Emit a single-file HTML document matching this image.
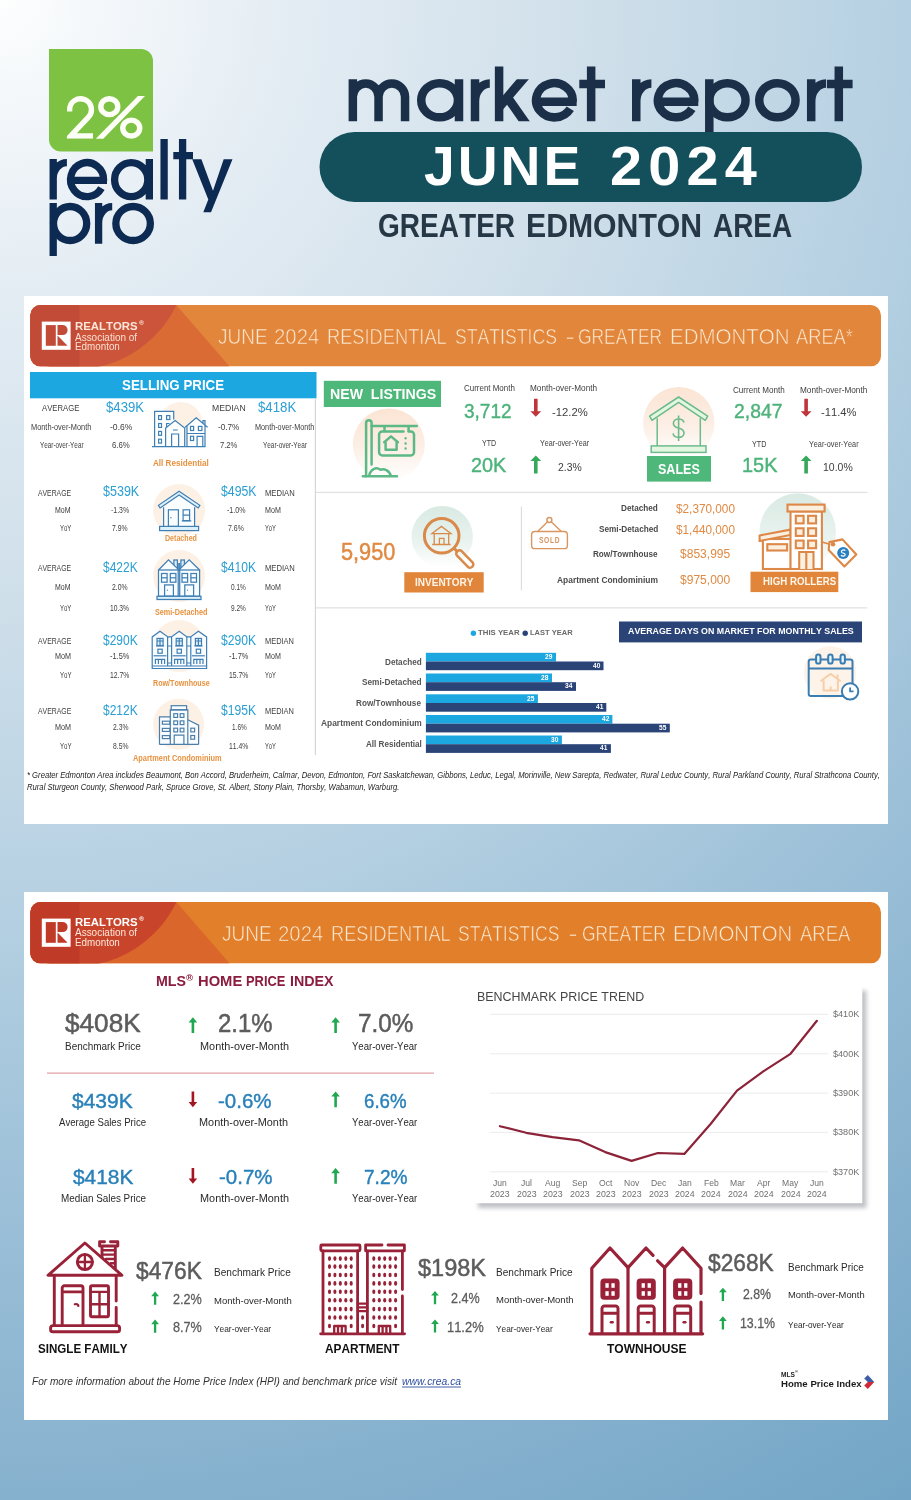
<!DOCTYPE html><html><head><meta charset="utf-8"><title>Market Report June 2024</title>
<style>
html,body{margin:0;padding:0}
body{width:911px;height:1500px;position:relative;overflow:hidden;font-family:"Liberation Sans",sans-serif;
background:radial-gradient(circle 1760px at 0 0,#fdfefe 0,#f3f7fa 110px,#e3ecf3 300px,#cfdfea 600px,#b5d0e2 911px,#9cc0d8 1200px,#86b1ce 1500px,#72a5c6 1760px);}
svg.bg{position:absolute;left:0;top:0}
.t{position:absolute;white-space:pre;line-height:1;transform-origin:0 50%;font-kerning:none}
.b{font-weight:bold}.i{font-style:italic}
</style></head><body>
<svg class="bg" width="911" height="1500" viewBox="0 0 911 1500">
<path d="M49,49H141A12,12 0 0 1 153,61V151.5H61A12,12 0 0 1 49,139.5Z" fill="#7dc242"/>
<clipPath id="c2"><rect x="66.9" y="90" width="30" height="48.8"/></clipPath>
<path clip-path="url(#c2)" d="M69.6,111.4V109.7A10.9,10.9 0 1 1 88.2,117.4L70.6,136H93" fill="none" stroke="#fdfef6" stroke-width="5.4" stroke-linejoin="miter"/>
<ellipse cx="109.3" cy="106.7" rx="8.45" ry="7.95" fill="none" stroke="#fdfef6" stroke-width="5.4"/>
<ellipse cx="131.25" cy="128.1" rx="8.5" ry="7.95" fill="none" stroke="#fdfef6" stroke-width="5.4"/>
<path d="M137.9,96H145L103.3,138.8H95.8Z" fill="#fdfef6"/>
<path d="M53.2,158.9V199.5M53.2,178.5A13.7,16 0 0 1 66.9,162.55M103.64,180.30A16.55,17.0 0 1 0 101.43,188.15M70.55,180.30H107.00M149.35,158.9V199.5M164.1,138.9V199.5M182.6,138.9V199.5M173.3,155.6H193M53.2,203V256M98.6,203V243.7M98.6,222.5A13.6,16 0 0 1 112.2,206.65" fill="none" stroke="#0c2a52" stroke-width="7.3"/>
<ellipse fill="none" stroke="#0c2a52" stroke-width="7.3" cx="131.2" cy="179.65" rx="16.6" ry="17.0"/>
<ellipse fill="none" stroke="#0c2a52" stroke-width="7.3" cx="70.1" cy="223.5" rx="16.6" ry="17.0"/>
<ellipse fill="none" stroke="#0c2a52" stroke-width="7.3" cx="133.1" cy="223.5" rx="17.25" ry="17.0"/>
<path d="M192.2,159.2H201.4L213,190.7L223.7,159.2H232.5L211,212.2H203.3L208.3,199.5Z" fill="#0c2a52"/>
<path d="M352.85,79.3V121.2M352.85,96.8A12.85,13.25 0 0 1 378.55,96.8V121.2M378.55,96.8A13.25,13.25 0 0 1 405.05,96.8V121.2M459.0,79.3V121.2M475,79.3V121.2M475,101A14.8,17.45 0 0 1 489.8,83.55M499.1,66.4V121.2M572.62,101.80A18.3,17.1 0 1 0 570.25,108.80M536.10,101.80H576.65M591.15,66.4V121.2M579.3,83.9H605M636.25,79.3V121.2M636.25,101A15.15,17.45 0 0 1 651.4,83.55M694.23,101.80A18.2,17.1 0 1 0 691.86,108.80M657.90,101.80H698.25M709.3,79.3V136M811.2,79.3V121.2M811.2,101A14.8,17.45 0 0 1 826,83.55M838.8,66.4V121.2M826.9,83.9H852.6" fill="none" stroke="#1b2f48" stroke-width="8.5"/>
<ellipse cx="439.6" cy="100.25" rx="18.35" ry="17.1" fill="none" stroke="#1b2f48" stroke-width="8.5"/>
<ellipse cx="727.4" cy="100.25" rx="18.15" ry="17.1" fill="none" stroke="#1b2f48" stroke-width="8.5"/>
<ellipse cx="777.4" cy="100.25" rx="18.15" ry="17.1" fill="none" stroke="#1b2f48" stroke-width="8.5"/>
<clipPath id="kc"><rect x="500" y="79.3" width="40" height="41.900000000000006"/></clipPath>
<g clip-path="url(#kc)" stroke="#1b2f48" stroke-width="9.1" fill="none"><path d="M497,109.5L526,75.5M506.5,96L527.5,126"/></g>
<rect x="319.5" y="132" width="542.5" height="70" rx="35" fill="#14505c"/>
<rect x="24" y="296" width="864" height="528" fill="#ffffff"/>
<clipPath id="h1"><rect x="30.3" y="305" width="850.7" height="61.5" rx="10.5"/></clipPath><g clip-path="url(#h1)"><rect x="30" y="305" width="852" height="61.5" fill="#e2863b"/><path d="M30,305H176.3L229.6,366.5H30Z" fill="#da6b35"/><circle cx="74" cy="256.1" r="113.5" fill="#cb543a"/><rect x="30" y="305" width="49.5" height="61.5" fill="#c24b38"/></g><rect x="41.8" y="321.6" width="28.8" height="28.2" fill="#fff"/><rect x="45.8" y="325.1" width="10" height="20.7" fill="#c24b38"/><path d="M57.5,325.1H62.6A5,5 0 0 1 62.6,335.1H57.5Z" fill="#c24b38"/><path d="M57.5,335.6L67.6,345.8H57.5Z" fill="#c24b38"/>
<rect x="30" y="372" width="286.5" height="26.3" fill="#1da7e0"/>
<path d="M315.4,398.3V755" stroke="#d4d6d8" stroke-width="1.2" fill="none"/>
<path d="M316,492.3H867.4M316,607.9H867.4" stroke="#dfe1e3" stroke-width="1.3" fill="none"/>
<path d="M521.4,506.5V590.5" stroke="#dcdcdc" stroke-width="1.1" fill="none"/>
<defs><linearGradient id="gp" x1="0" y1="0" x2="0" y2="1"><stop offset="0" stop-color="#fbe4d4"/><stop offset="0.55" stop-color="#fcefe6"/><stop offset="1" stop-color="#ffffff"/></linearGradient><linearGradient id="gg" x1="0" y1="0" x2="0" y2="1"><stop offset="0" stop-color="#d9eae3"/><stop offset="0.6" stop-color="#e9f3ef"/><stop offset="1" stop-color="#ffffff"/></linearGradient></defs>
<circle cx="180.8" cy="424" r="22" fill="#fdf0e5"/>
<circle cx="179.1" cy="510.1" r="26" fill="#fdf0e5"/>
<circle cx="179.1" cy="576.1" r="26" fill="#fdf0e5"/>
<circle cx="179" cy="646" r="26" fill="#fdf0e5"/>
<circle cx="178.6" cy="724.2" r="25.5" fill="#fdf0e5"/>
<path d="M154.6,446.4V411.3H173.7V446.4ZM165.6,446.4V428L175.1,420.5L184.7,428V446.4ZM187,446.4V426L196.2,417.8L205,425.4V446.4Z" fill="#fdfefe"/><g fill="none" stroke="#3f7fb4" stroke-width="1.2" stroke-linejoin="miter"><path d="M154.6,446.4V411.3H173.7V419.5"/><rect x="158.6" y="415.6" width="2.9" height="3.9"/><rect x="158.6" y="423.5" width="2.9" height="3.9"/><rect x="158.6" y="431.4" width="2.9" height="3.9"/><rect x="158.6" y="439.2" width="2.9" height="3.9"/><rect x="166.6" y="415.6" width="3.2" height="3.9"/><path d="M166.6,427.2V423.5H169.5"/><path d="M165.6,446.4V428L175.1,420.5L184.7,428V446.4"/><path d="M171.6,446.4V434H178.6V446.4M173,430H177.7"/><path d="M185.2,427.3L196.2,417.8L207.6,427.3M187,446.4V426M205,446.4V425.4M187,433.5H205M203,423.5V420.6H205V425"/><rect x="190.5" y="426.4" width="3.1" height="4.1"/><rect x="198.4" y="426.4" width="3.5" height="4.1"/><rect x="190.5" y="436.3" width="3.1" height="4.2"/><path d="M197.1,446.4V436.3H202.8V446.4"/><path d="M152,446.6H205.5" stroke-width="1.4"/></g>
<g fill="none" stroke="#3f7fb4" stroke-width="1.2"><path d="M163.6,507.2L179.1,495.5L194.6,507.2V526.4H163.6Z" fill="#fafdff" stroke="none"/><path d="M163.6,507.2V526.4M194.6,507.2V526.4"/><path d="M179.1,491.2L199.9,505.3L198.2,508L179.1,495L160.1,508L158.4,505.3Z" fill="#dcf0fb"/><rect x="168.4" y="509.8" width="10" height="16.6"/><circle cx="170.9" cy="517.8" r="0.7" fill="#3f7fb4" stroke="none"/><rect x="183.1" y="509.8" width="6.5" height="10.8"/><path d="M183.1,515.2H189.6M181.8,520.8H191.3"/><rect x="159.6" y="526.4" width="39" height="4.2" fill="#dcf0fb"/></g>
<g fill="none" stroke="#3f7fb4" stroke-width="1.25"><rect x="173.9" y="560" width="3.5" height="9" fill="#dcf0fb"/><rect x="180.9" y="560" width="3.5" height="9" fill="#dcf0fb"/><path d="M158.5,570L168.5,559.9L178.9,570L189.2,559.9L199.6,570" fill="#fafdff"/><rect x="158.5" y="570" width="41.1" height="26.3" fill="#fafdff"/><path d="M178.2,563V596.3M179.7,563V596.3"/><rect x="161.5" y="573.5" width="5.6" height="8.7"/><path d="M161.5,577.8H167.1"/><rect x="170.3" y="573.5" width="5.6" height="8.7"/><path d="M170.3,577.8H175.9"/><rect x="182" y="573.5" width="5.6" height="8.7"/><path d="M182,577.8H187.6"/><rect x="190.9" y="573.5" width="5.6" height="8.7"/><path d="M190.9,577.8H196.5"/><rect x="164.6" y="584.9" width="8.8" height="11.4"/><circle cx="167.4" cy="590.2" r="0.6" fill="#3f7fb4" stroke="none"/><rect x="184.8" y="584.9" width="8.8" height="11.4"/><circle cx="187.60000000000002" cy="590.2" r="0.6" fill="#3f7fb4" stroke="none"/><rect x="157" y="596.3" width="44" height="3.2" fill="#dcf0fb"/></g>
<g fill="none" stroke="#3f7fb4" stroke-width="1.2"><path d="M152.2,668.5V636.9L160,631.2L167.9,636.9H171.4L179.2,631.2L187,636.9H190.6L198.4,631.2L206.6,636.9V668.5Z" fill="#fafdff"/><rect x="157" y="638.4" width="6.1" height="7.2" fill="#dcf0fb"/><path d="M160,638.4V645.6M157,641H163.1M156,645.8H164.1"/><rect x="157.9" y="649.2" width="4.3" height="4"/><path d="M153.5,655.8H166.5"/><path d="M155.4,664V659.3H164.6V664M158.4,659.3V664M161.6,659.3V664"/><rect x="176.2" y="638.4" width="6.1" height="7.2" fill="#dcf0fb"/><path d="M179.2,638.4V645.6M176.2,641H182.29999999999998M175.2,645.8H183.29999999999998"/><rect x="177.1" y="649.2" width="4.3" height="4"/><path d="M172.7,655.8H185.7"/><path d="M174.6,664V659.3H183.79999999999998V664M177.6,659.3V664M180.79999999999998,659.3V664"/><rect x="195.4" y="638.4" width="6.1" height="7.2" fill="#dcf0fb"/><path d="M198.4,638.4V645.6M195.4,641H201.5M194.4,645.8H202.5"/><rect x="196.3" y="649.2" width="4.3" height="4"/><path d="M191.9,655.8H204.9"/><path d="M193.8,664V659.3H203.0V664M196.8,659.3V664M200.0,659.3V664"/><path d="M167.6,636.9V666M171.6,636.9V666M167.6,646H171.6M167.6,663H171.6"/><path d="M186.8,636.9V666M190.8,636.9V666M186.8,646H190.8M186.8,663H190.8"/><path d="M152.2,666H206.6"/></g>
<g fill="none" stroke="#4b7fa9" stroke-width="1.2"><path d="M159.5,744.4V716.9H170.3V709.8H187.8V719.8L198.6,725.1V744.4Z" fill="#fafdff" stroke="none"/><rect x="171.2" y="705.7" width="15.4" height="4.1" fill="#fafdff"/><path d="M170.3,744.4V709.8H187.8V744.4"/><path d="M170.3,716.9H159.5V744.4"/><path d="M187.8,719.8L198.6,725.1V744.4"/><rect x="162.4" y="721.2" width="7.4" height="3"/><rect x="162.4" y="728.4" width="7.4" height="3"/><rect x="162.4" y="735.6" width="7.4" height="3"/><rect x="173.8" y="713.7" width="3.8" height="3.7"/><rect x="180.2" y="713.7" width="3.7" height="3.7"/><rect x="173.8" y="720.9" width="3.8" height="3.7"/><rect x="180.2" y="720.9" width="3.7" height="3.7"/><rect x="173.8" y="728.2" width="3.8" height="3.7"/><rect x="180.2" y="728.2" width="3.7" height="3.7"/><rect x="190.8" y="728.2" width="3.8" height="3.7"/><rect x="190.8" y="735.5" width="3.8" height="3.7"/><path d="M174.2,744.4V735.2H183.9V744.4"/><path d="M159.5,744.4H198.6" stroke-width="1.4"/></g>
<rect x="323.8" y="380.8" width="117.2" height="26.2" fill="#4db87a"/>
<circle cx="388.8" cy="444.5" r="36" fill="url(#gp)"/>
<g fill="none" stroke="#5cb985" stroke-width="2.5" stroke-linecap="round" stroke-linejoin="round"><path d="M366.1,476.3V423A2.75,2.75 0 0 1 371.6,423V464.6"/><path d="M371.6,426.1H416.8M384.5,426.1V431M408.6,426.1V431"/><path d="M403.5,431.4H382.3A3.2,3.2 0 0 0 379.1,434.6V452.2A3.2,3.2 0 0 0 382.3,455.4H410.8A3.2,3.2 0 0 0 414,452.2V434.6A3.2,3.2 0 0 0 410.8,431.4H408.6"/><path d="M384.2,442.2L391,436.4L397.9,442.2M385.6,442.4V449.8H396.6V442.4"/><path d="M405.6,438.2V438.3M405.6,443.4V443.5M405.6,448.5V448.6" stroke-width="2.4"/><path d="M362.8,476.3H397M369,476C370.5,469 376,466.5 380.5,469.8C384,468.5 389,470 391,476"/></g>
<path d="M535.8,416.8L541.1999999999999,411.2H537.5999999999999V398.8H534.0V411.2H530.4Z" fill="#bf353b"/>
<path d="M535.8,455.4L541.1999999999999,461.0H537.5999999999999V473.4H534.0V461.0H530.4Z" fill="#36a85a"/>
<circle cx="678.8" cy="422.8" r="35.7" fill="url(#gp)"/>
<g fill="none" stroke="#6dba8a" stroke-width="1.5"><path d="M678.6,397L707.7,416.2L705.3,420.3L678.6,402.4L652,420.3L649.6,416.2Z" fill="#e2f6e2" stroke-linejoin="round"/><path d="M657.2,418.3V445.9M700.3,418.3V445.9"/><rect x="651.2" y="445.9" width="54.8" height="6.5" fill="#e2f6e2"/><path d="M678.6,415.6V441M684,422.5C683.3,419.8 681,419 678.6,419C675.8,419 673.4,420.6 673.4,423.4C673.4,429.6 684,426.6 684,433C684,435.8 681.5,437.4 678.6,437.4C675.5,437.4 673.5,436 673,433.4" stroke-width="1.6"/></g>
<rect x="647" y="456" width="64" height="25.6" fill="#4db87a"/>
<path d="M806.1,416.8L811.5,411.2H807.9V398.8H804.3000000000001V411.2H800.7Z" fill="#bf353b"/>
<path d="M806.1,455.4L811.5,461.0H807.9V473.4H804.3000000000001V461.0H800.7Z" fill="#36a85a"/>
<circle cx="442.2" cy="536.7" r="30.7" fill="url(#gg)"/>
<g fill="none" stroke="#d98a4a" stroke-width="2.5"><circle cx="441.7" cy="535.8" r="17.3" stroke-width="3"/><path d="M453.8,548L457,551.2" stroke-width="3"/><rect x="-3.2" y="0" width="6.4" height="21.5" rx="2.9" transform="translate(457.3,551.3) rotate(-44)"/></g><g fill="none" stroke="#d98a4a" stroke-width="1.3"><path d="M432,533.6L441.4,526.4L451,533.6Z"/><path d="M434.2,533.6V544.4M448.7,533.6V544.4M432.2,544.5H450.6M439.4,544.4V538.4H444V544.4"/></g>
<rect x="404.3" y="572.2" width="79.4" height="20.3" fill="#e1853a"/>
<g fill="none" stroke="#d99660" stroke-width="1.4"><circle cx="549.4" cy="520" r="2.5" fill="#fff"/><path d="M547.6,521.8L537.6,531.4M551.2,521.8L561.4,531.4"/><rect x="531.6" y="531.5" width="35.8" height="17.1" rx="3.2"/></g>
<circle cx="797.7" cy="531.5" r="38.2" fill="url(#gg)"/>
<g fill="#fff" stroke="#dd8847" stroke-width="2.1"><rect x="762.9" y="539" width="28" height="30"/><path d="M759.6,535.5L790.4,529.6V535L759.6,541Z" fill="#fbefdf"/><rect x="767.3" y="544.2" width="19.8" height="6.3" fill="#fbefdf"/><rect x="790.5" y="511.4" width="31.4" height="57.6"/><rect x="787.5" y="504.6" width="37.1" height="6.9" fill="#fbefdf"/><rect x="795.8" y="515.8" width="7.8" height="7.6" fill="#fbefdf"/><rect x="808.1" y="515.8" width="8" height="7.6" fill="#fbefdf"/><rect x="795.8" y="528.3" width="7.8" height="7.6" fill="#fbefdf"/><rect x="808.1" y="528.3" width="8" height="7.6" fill="#fbefdf"/><rect x="795.8" y="540.6" width="7.8" height="7.6" fill="#fbefdf"/><rect x="808.1" y="540.6" width="8" height="7.6" fill="#fbefdf"/><path d="M799.2,569V552H813.5V569M806.3,552V569" fill="#fbefdf"/><path d="M822,542L830.5,544.6" fill="none" stroke-width="1.6"/><path d="M829.4,542.1L842.5,539.4L856.3,554.5L844.4,566.4L828.7,550Z" stroke-linejoin="round"/><circle cx="833" cy="544.2" r="2.3" fill="#dd8847" stroke="none"/></g><circle cx="843.2" cy="553" r="6" fill="#2a7fc1"/><path d="M845.4,550.6C844,549.4 841,550 841.4,552C841.8,553.8 845,552.6 845.2,554.6C845.3,556.4 842,556.6 841,555.2" fill="none" stroke="#fff" stroke-width="1.2"/>
<rect x="750.5" y="571.7" width="87.8" height="20.4" fill="#e1853a"/>
<circle cx="473.4" cy="633.2" r="2.7" fill="#1da7e0"/><circle cx="525.2" cy="633.2" r="2.7" fill="#2a4478"/>
<rect x="425.9" y="652.8" width="130.1" height="8.7" fill="#1da7e0"/><rect x="425.9" y="661.5" width="177.6" height="8.7" fill="#2a4478"/><rect x="425.9" y="673.5" width="126.1" height="8.7" fill="#1da7e0"/><rect x="425.9" y="682.2" width="150.1" height="8.7" fill="#2a4478"/><rect x="425.9" y="694.3" width="112.0" height="8.7" fill="#1da7e0"/><rect x="425.9" y="703.0" width="180.4" height="8.7" fill="#2a4478"/><rect x="425.9" y="715" width="186.5" height="8.7" fill="#1da7e0"/><rect x="425.9" y="723.7" width="243.9" height="8.7" fill="#2a4478"/><rect x="425.9" y="735.5" width="136.0" height="8.7" fill="#1da7e0"/><rect x="425.9" y="744.2" width="185.0" height="8.7" fill="#2a4478"/>
<rect x="619" y="621.5" width="243" height="20.9" fill="#2a4478"/>
<circle cx="830.1" cy="672.5" r="26.3" fill="#fef3e9"/>
<g fill="none" stroke="#f5cfab" stroke-width="2" stroke-linejoin="round"><path d="M820.5,681.3L830.6,673.9L840.7,681.3M823.6,680.5V690.5H837.9V680.5M830.7,690.5V686.5M837.6,678V674.5"/></g><g fill="none" stroke="#3a7db2" stroke-width="2"><rect x="808.7" y="659.6" width="43.8" height="36.4" rx="2.2"/><path d="M808.7,668.5H852.5"/><rect x="816.0999999999999" y="654.6" width="4.4" height="9" rx="2.2" fill="#e6f6ff"/><rect x="828.1999999999999" y="654.6" width="4.4" height="9" rx="2.2" fill="#e6f6ff"/><rect x="840.5" y="654.6" width="4.4" height="9" rx="2.2" fill="#e6f6ff"/><circle cx="850.1" cy="691.4" r="8.2" fill="#fff"/><path d="M850.1,687.4V691.4H853.6" stroke-width="1.8"/></g>
<rect x="24" y="892" width="864" height="528" fill="#ffffff"/>
<clipPath id="h2"><rect x="30.3" y="902" width="850.7" height="61.5" rx="10.5"/></clipPath><g clip-path="url(#h2)"><rect x="30" y="902" width="852" height="61.5" fill="#e17f2a"/><path d="M30,902H176.3L229.6,963.5H30Z" fill="#db662b"/><circle cx="74" cy="853.1" r="113.5" fill="#c8452b"/><rect x="30" y="902" width="49.5" height="61.5" fill="#c03a28"/></g><rect x="41.8" y="918.6" width="28.8" height="28.2" fill="#fff"/><rect x="45.8" y="922.1" width="10" height="20.7" fill="#c03a28"/><path d="M57.5,922.1H62.6A5,5 0 0 1 62.6,932.1H57.5Z" fill="#c03a28"/><path d="M57.5,932.6L67.6,942.8000000000001H57.5Z" fill="#c03a28"/>
<path d="M47,1073.2H434" stroke="#e2a3a7" stroke-width="1.3" fill="none"/>
<path d="M192.9,1017.3L197.20000000000002,1022.5H194.20000000000002V1033.1H191.6V1022.5H188.6Z" fill="#1fa84f"/>
<path d="M335.6,1017.3L339.90000000000003,1022.5H336.90000000000003V1033.1H334.3V1022.5H331.3Z" fill="#1fa84f"/>
<path d="M192.9,1107.2L197.20000000000002,1102.0H194.20000000000002V1091.4H191.6V1102.0H188.6Z" fill="#a31621"/>
<path d="M335.6,1091.4L339.90000000000003,1096.6000000000001H336.90000000000003V1107.2H334.3V1096.6000000000001H331.3Z" fill="#1fa84f"/>
<path d="M192.9,1183.8L197.20000000000002,1178.6H194.20000000000002V1168.0H191.6V1178.6H188.6Z" fill="#a31621"/>
<path d="M335.6,1168L339.90000000000003,1173.2H336.90000000000003V1183.8H334.3V1173.2H331.3Z" fill="#1fa84f"/>
<defs><filter id="sh" x="-5%" y="-5%" width="112%" height="115%"><feGaussianBlur stdDeviation="2.2"/></filter></defs>
<rect x="478" y="990.5" width="388.5" height="217.5" fill="#8a8f96" opacity="0.55" filter="url(#sh)"/>
<rect x="473.6" y="985.4" width="388.7" height="217.8" fill="#ffffff"/>
<path d="M489.8,1014.3H828" stroke="#ececec" stroke-width="1" fill="none"/>
<path d="M489.8,1053.8H828" stroke="#ececec" stroke-width="1" fill="none"/>
<path d="M489.8,1093.2H828" stroke="#ececec" stroke-width="1" fill="none"/>
<path d="M489.8,1132.4H828" stroke="#ececec" stroke-width="1" fill="none"/>
<path d="M489.8,1171.8H828" stroke="#ececec" stroke-width="1" fill="none"/>
<path d="M499.9,1126.2L526.2,1132.8L552.5,1137.2L578.9,1140.3L605.2,1152.1L631.6,1160.9L657.9,1153L684.3,1153.9L710.6,1124L737,1090.6L763.3,1071.3L790.5,1053.8L816.9,1020.8" fill="none" stroke="#8c2338" stroke-width="2.2" stroke-linejoin="round" stroke-linecap="round"/>
<g fill="none" stroke="#9a2238" stroke-width="2.9" stroke-linecap="round" stroke-linejoin="round"><path d="M104.5,1241.8H99.6V1246H117.8V1241.8H110.5"/><path d="M102,1246.5V1257.5M115.3,1246.5V1268.5"/><path d="M102.5,1250.2H115M102.5,1254.6H115M106,1259H115M110.8,1263.2H115" stroke-width="2.4"/><path d="M84.9,1243L48,1275.3H122L84.9,1243Z"/><circle cx="84.9" cy="1262" r="7.6"/><path d="M84.9,1254.4V1269.6M77.3,1262H92.5" stroke-width="2.3"/><path d="M54.3,1276V1325M116.2,1276V1301M116.2,1307.5V1325"/><path d="M62.2,1325V1288A2.2,2.2 0 0 1 64.4,1285.8H80.8A2.2,2.2 0 0 1 83,1288V1325M62.2,1291.9H83"/><path d="M74.8,1304.2C76.5,1303.8 78.2,1304.4 78.4,1306" stroke-width="2.2"/><rect x="90.5" y="1285.8" width="18" height="31" rx="1.6"/><path d="M90.5,1291.9H108.5M99.5,1292V1316.5M90.5,1304.3H108.5" stroke-width="2.4"/><rect x="50.6" y="1325.6" width="69" height="6.2" rx="2.4"/></g>
<g fill="none" stroke="#9a2238" stroke-width="2.8" stroke-linecap="round" stroke-linejoin="round"><rect x="320.8" y="1245" width="39.2" height="5.8" rx="1"/><path d="M382,1245H365.6V1250.8H404.4V1245H388"/><path d="M323,1251V1333.5M357.6,1251V1333.5M367.4,1251V1333.5M402.4,1251V1289.5M402.4,1296V1333.5"/><path d="M357.6,1303.6H367.4M357.6,1307.4H367.4M357.6,1311.2H367.4" stroke-width="2.2"/><path d="M320.6,1333.8H404.6"/><path d="M334.2,1333V1326H345.59999999999997V1333M338.0,1326V1333M341.8,1326V1333" stroke-width="2.3"/><path d="M378.8,1333V1326H390.2V1333M382.6,1326V1333M386.40000000000003,1326V1333" stroke-width="2.3"/></g><g fill="#9a2238"><ellipse cx="329.5" cy="1258.6" rx="1.55" ry="2.3"/><ellipse cx="334.9" cy="1258.6" rx="1.55" ry="2.3"/><ellipse cx="340.3" cy="1258.6" rx="1.55" ry="2.3"/><ellipse cx="345.8" cy="1258.6" rx="1.55" ry="2.3"/><ellipse cx="351.2" cy="1258.6" rx="1.55" ry="2.3"/><ellipse cx="373.8" cy="1258.6" rx="1.55" ry="2.3"/><ellipse cx="379.3" cy="1258.6" rx="1.55" ry="2.3"/><ellipse cx="384.7" cy="1258.6" rx="1.55" ry="2.3"/><ellipse cx="390.1" cy="1258.6" rx="1.55" ry="2.3"/><ellipse cx="395.6" cy="1258.6" rx="1.55" ry="2.3"/><ellipse cx="329.5" cy="1266.6" rx="1.55" ry="2.3"/><ellipse cx="334.9" cy="1266.6" rx="1.55" ry="2.3"/><ellipse cx="340.3" cy="1266.6" rx="1.55" ry="2.3"/><ellipse cx="345.8" cy="1266.6" rx="1.55" ry="2.3"/><ellipse cx="351.2" cy="1266.6" rx="1.55" ry="2.3"/><ellipse cx="373.8" cy="1266.6" rx="1.55" ry="2.3"/><ellipse cx="379.3" cy="1266.6" rx="1.55" ry="2.3"/><ellipse cx="384.7" cy="1266.6" rx="1.55" ry="2.3"/><ellipse cx="390.1" cy="1266.6" rx="1.55" ry="2.3"/><ellipse cx="395.6" cy="1266.6" rx="1.55" ry="2.3"/><ellipse cx="329.5" cy="1275" rx="1.55" ry="2.3"/><ellipse cx="334.9" cy="1275" rx="1.55" ry="2.3"/><ellipse cx="340.3" cy="1275" rx="1.55" ry="2.3"/><ellipse cx="345.8" cy="1275" rx="1.55" ry="2.3"/><ellipse cx="351.2" cy="1275" rx="1.55" ry="2.3"/><ellipse cx="373.8" cy="1275" rx="1.55" ry="2.3"/><ellipse cx="379.3" cy="1275" rx="1.55" ry="2.3"/><ellipse cx="384.7" cy="1275" rx="1.55" ry="2.3"/><ellipse cx="390.1" cy="1275" rx="1.55" ry="2.3"/><ellipse cx="395.6" cy="1275" rx="1.55" ry="2.3"/><ellipse cx="329.5" cy="1283.4" rx="1.55" ry="2.3"/><ellipse cx="334.9" cy="1283.4" rx="1.55" ry="2.3"/><ellipse cx="340.3" cy="1283.4" rx="1.55" ry="2.3"/><ellipse cx="345.8" cy="1283.4" rx="1.55" ry="2.3"/><ellipse cx="351.2" cy="1283.4" rx="1.55" ry="2.3"/><ellipse cx="373.8" cy="1283.4" rx="1.55" ry="2.3"/><ellipse cx="379.3" cy="1283.4" rx="1.55" ry="2.3"/><ellipse cx="384.7" cy="1283.4" rx="1.55" ry="2.3"/><ellipse cx="390.1" cy="1283.4" rx="1.55" ry="2.3"/><ellipse cx="395.6" cy="1283.4" rx="1.55" ry="2.3"/><ellipse cx="329.5" cy="1291.8" rx="1.55" ry="2.3"/><ellipse cx="334.9" cy="1291.8" rx="1.55" ry="2.3"/><ellipse cx="340.3" cy="1291.8" rx="1.55" ry="2.3"/><ellipse cx="345.8" cy="1291.8" rx="1.55" ry="2.3"/><ellipse cx="351.2" cy="1291.8" rx="1.55" ry="2.3"/><ellipse cx="373.8" cy="1291.8" rx="1.55" ry="2.3"/><ellipse cx="379.3" cy="1291.8" rx="1.55" ry="2.3"/><ellipse cx="384.7" cy="1291.8" rx="1.55" ry="2.3"/><ellipse cx="390.1" cy="1291.8" rx="1.55" ry="2.3"/><ellipse cx="395.6" cy="1291.8" rx="1.55" ry="2.3"/><ellipse cx="329.5" cy="1300.3" rx="1.55" ry="2.3"/><ellipse cx="334.9" cy="1300.3" rx="1.55" ry="2.3"/><ellipse cx="340.3" cy="1300.3" rx="1.55" ry="2.3"/><ellipse cx="345.8" cy="1300.3" rx="1.55" ry="2.3"/><ellipse cx="351.2" cy="1300.3" rx="1.55" ry="2.3"/><ellipse cx="373.8" cy="1300.3" rx="1.55" ry="2.3"/><ellipse cx="379.3" cy="1300.3" rx="1.55" ry="2.3"/><ellipse cx="384.7" cy="1300.3" rx="1.55" ry="2.3"/><ellipse cx="390.1" cy="1300.3" rx="1.55" ry="2.3"/><ellipse cx="395.6" cy="1300.3" rx="1.55" ry="2.3"/><ellipse cx="329.5" cy="1309.1" rx="1.55" ry="2.3"/><ellipse cx="334.9" cy="1309.1" rx="1.55" ry="2.3"/><ellipse cx="340.3" cy="1309.1" rx="1.55" ry="2.3"/><ellipse cx="345.8" cy="1309.1" rx="1.55" ry="2.3"/><ellipse cx="351.2" cy="1309.1" rx="1.55" ry="2.3"/><ellipse cx="373.8" cy="1309.1" rx="1.55" ry="2.3"/><ellipse cx="379.3" cy="1309.1" rx="1.55" ry="2.3"/><ellipse cx="384.7" cy="1309.1" rx="1.55" ry="2.3"/><ellipse cx="390.1" cy="1309.1" rx="1.55" ry="2.3"/><ellipse cx="395.6" cy="1309.1" rx="1.55" ry="2.3"/><ellipse cx="329.5" cy="1317.5" rx="1.55" ry="2.3"/><ellipse cx="334.9" cy="1317.5" rx="1.55" ry="2.3"/><ellipse cx="340.3" cy="1317.5" rx="1.55" ry="2.3"/><ellipse cx="345.8" cy="1317.5" rx="1.55" ry="2.3"/><ellipse cx="351.2" cy="1317.5" rx="1.55" ry="2.3"/><ellipse cx="373.8" cy="1317.5" rx="1.55" ry="2.3"/><ellipse cx="379.3" cy="1317.5" rx="1.55" ry="2.3"/><ellipse cx="384.7" cy="1317.5" rx="1.55" ry="2.3"/><ellipse cx="390.1" cy="1317.5" rx="1.55" ry="2.3"/><ellipse cx="395.6" cy="1317.5" rx="1.55" ry="2.3"/><ellipse cx="329.5" cy="1326" rx="1.55" ry="2.3"/><ellipse cx="351.2" cy="1326" rx="1.55" ry="2.3"/><ellipse cx="373.8" cy="1326" rx="1.55" ry="2.3"/><ellipse cx="395.6" cy="1326" rx="1.55" ry="2.3"/><ellipse cx="362.6" cy="1317.5" rx="1.55" ry="2.3"/><ellipse cx="362.6" cy="1326" rx="1.55" ry="2.3"/></g>
<g fill="none" stroke="#9a2238" stroke-width="3.2" stroke-linecap="round" stroke-linejoin="round"><path d="M591.8,1333V1268.3L610,1248L628,1267.7L646,1248L653,1255.4M657.6,1260.8L664.6,1267.7L682.6,1248L701,1268.3V1293.5M701,1302V1333"/><path d="M628,1267.7V1333M664.6,1267.7V1333"/><path d="M590,1333.8H702.6"/><rect x="602" y="1280.2" width="16" height="18" rx="2.2" fill="#9a2238"/><path d="M602,1333V1308.4A2.4,2.4 0 0 1 604.4,1306H615.6A2.4,2.4 0 0 1 618,1308.4V1333M602,1313.2H618" stroke-width="3"/><path d="M611,1322.2H612.6" stroke-width="2.6"/><rect x="638.2" y="1280.2" width="16" height="18" rx="2.2" fill="#9a2238"/><path d="M638.2,1333V1308.4A2.4,2.4 0 0 1 640.6,1306H651.8000000000001A2.4,2.4 0 0 1 654.2,1308.4V1333M638.2,1313.2H654.2" stroke-width="3"/><path d="M647.2,1322.2H648.8000000000001" stroke-width="2.6"/><rect x="674.7" y="1280.2" width="16" height="18" rx="2.2" fill="#9a2238"/><path d="M674.7,1333V1308.4A2.4,2.4 0 0 1 677.1,1306H688.3000000000001A2.4,2.4 0 0 1 690.7,1308.4V1333M674.7,1313.2H690.7" stroke-width="3"/><path d="M683.7,1322.2H685.3000000000001" stroke-width="2.6"/></g><g fill="#fff"><rect x="605.4" y="1283.2" width="3.3" height="4.6"/><rect x="605.4" y="1291.2" width="3.3" height="4.6"/><rect x="611.4" y="1283.2" width="3.3" height="4.6"/><rect x="611.4" y="1291.2" width="3.3" height="4.6"/><rect x="641.6" y="1283.2" width="3.3" height="4.6"/><rect x="641.6" y="1291.2" width="3.3" height="4.6"/><rect x="647.6" y="1283.2" width="3.3" height="4.6"/><rect x="647.6" y="1291.2" width="3.3" height="4.6"/><rect x="678.1" y="1283.2" width="3.3" height="4.6"/><rect x="678.1" y="1291.2" width="3.3" height="4.6"/><rect x="684.1" y="1283.2" width="3.3" height="4.6"/><rect x="684.1" y="1291.2" width="3.3" height="4.6"/></g>
<path d="M155.1,1291.6L159.0,1296.1999999999998H156.25V1304.8H153.95V1296.1999999999998H151.2Z" fill="#1fa84f"/>
<path d="M155.1,1319.6L159.0,1324.1999999999998H156.25V1332.8H153.95V1324.1999999999998H151.2Z" fill="#1fa84f"/>
<path d="M435,1291L438.9,1295.6H436.15V1304.2H433.85V1295.6H431.1Z" fill="#1fa84f"/>
<path d="M435,1319.4L438.9,1324.0H436.15V1332.6000000000001H433.85V1324.0H431.1Z" fill="#1fa84f"/>
<path d="M722.9,1287.7L726.8,1292.3H724.05V1300.9H721.75V1292.3H719.0Z" fill="#1fa84f"/>
<path d="M722.9,1316.3L726.8,1320.8999999999999H724.05V1329.5H721.75V1320.8999999999999H719.0Z" fill="#1fa84f"/>
<path d="M402,1387H461" stroke="#2d4f9e" stroke-width="0.9" fill="none"/>
<path d="M867.8,1375L874.2,1382L869.6,1382.1H867.8L864.2,1378.5Z" fill="#3d5ba9"/>
<path d="M874.2,1382L867.8,1389.1L864.2,1385.6L867.8,1382.1Z" fill="#cf2a37"/>
</svg>
<span class="t b" style="left:424.40px;top:138.97px;font-size:55.6px;color:#ffffff;letter-spacing:3px;transform:scaleX(0.9940);">JUNE</span>
<span class="t b" style="left:610.40px;top:138.97px;font-size:55.6px;color:#ffffff;letter-spacing:6px;transform:scaleX(1.0358);">2024</span>
<span class="t b" style="left:378.00px;top:209.20px;font-size:33.2px;color:#263746;transform:scaleX(0.8451);">GREATER</span>
<span class="t b" style="left:526.00px;top:209.20px;font-size:33.2px;color:#263746;transform:scaleX(0.9100);">EDMONTON</span>
<span class="t b" style="left:713.00px;top:209.20px;font-size:33.2px;color:#263746;transform:scaleX(0.8408);">AREA</span>
<span class="t b" style="left:75.20px;top:320.53px;font-size:11px;color:#fbe6da;transform:scaleX(1.0341);">REALTORS</span>
<span class="t b" style="left:138.50px;top:320.37px;font-size:6px;color:#fbe6da;transform:scaleX(1.1319);">®</span>
<span class="t" style="left:75.20px;top:332.72px;font-size:10px;color:#fbe0d2;transform:scaleX(0.9967);">Association of</span>
<span class="t" style="left:75.20px;top:342.02px;font-size:10px;color:#fbe0d2;transform:scaleX(0.9836);">Edmonton</span>
<span class="t" style="left:218.10px;top:326.02px;font-size:22.5px;color:#fdebd6;-webkit-text-stroke:0.61px #e2863b;transform:scaleX(0.8466);">JUNE</span>
<span class="t" style="left:274.30px;top:326.02px;font-size:22.5px;color:#fdebd6;-webkit-text-stroke:0.61px #e2863b;transform:scaleX(0.9058);">2024</span>
<span class="t" style="left:326.80px;top:326.02px;font-size:22.5px;color:#fdebd6;-webkit-text-stroke:0.61px #e2863b;transform:scaleX(0.8114);">RESIDENTIAL</span>
<span class="t" style="left:454.70px;top:326.02px;font-size:22.5px;color:#fdebd6;-webkit-text-stroke:0.61px #e2863b;transform:scaleX(0.7838);">STATISTICS</span>
<span class="t" style="left:564.50px;top:326.02px;font-size:22.5px;color:#fdebd6;-webkit-text-stroke:0.61px #e2863b;transform:scaleX(1.3480);">-</span>
<span class="t" style="left:578.20px;top:326.02px;font-size:22.5px;color:#fdebd6;-webkit-text-stroke:0.61px #e2863b;transform:scaleX(0.7740);">GREATER</span>
<span class="t" style="left:669.50px;top:326.02px;font-size:22.5px;color:#fdebd6;-webkit-text-stroke:0.61px #e2863b;transform:scaleX(0.9114);">EDMONTON</span>
<span class="t" style="left:796.30px;top:326.02px;font-size:22.5px;color:#fdebd6;-webkit-text-stroke:0.61px #e2863b;transform:scaleX(0.8119);">AREA*</span>
<span class="t b" style="left:122.00px;top:377.92px;font-size:14.5px;color:#ffffff;transform:scaleX(0.9183);">SELLING PRICE</span>
<span class="t" style="left:42.00px;top:403.32px;font-size:9.6px;color:#404040;transform:scaleX(0.8048);">AVERAGE</span>
<span class="t" style="left:106.30px;top:399.72px;font-size:14.5px;color:#2a9fd4;transform:scaleX(0.9070);">$439K</span>
<span class="t" style="left:258.40px;top:399.72px;font-size:14.5px;color:#2a9fd4;transform:scaleX(0.9118);">$418K</span>
<span class="t" style="left:211.70px;top:403.32px;font-size:9.6px;color:#404040;transform:scaleX(0.9014);">MEDIAN</span>
<span class="t" style="left:31.20px;top:422.55px;font-size:8.3px;color:#404040;transform:scaleX(0.8903);">Month-over-Month</span>
<span class="t" style="left:39.80px;top:441.35px;font-size:8.3px;color:#404040;transform:scaleX(0.7677);">Year-over-Year</span>
<span class="t" style="left:110.30px;top:422.55px;font-size:8.3px;color:#404040;transform:scaleX(1.0339);">-0.6%</span>
<span class="t" style="left:112.20px;top:441.35px;font-size:8.3px;color:#404040;transform:scaleX(0.9417);">6.6%</span>
<span class="t" style="left:218.30px;top:422.55px;font-size:8.3px;color:#404040;transform:scaleX(0.9877);">-0.7%</span>
<span class="t" style="left:220.00px;top:441.35px;font-size:8.3px;color:#404040;transform:scaleX(0.9205);">7.2%</span>
<span class="t" style="left:254.50px;top:422.55px;font-size:8.3px;color:#404040;transform:scaleX(0.8755);">Month-over-Month</span>
<span class="t" style="left:262.70px;top:441.35px;font-size:8.3px;color:#404040;transform:scaleX(0.7730);">Year-over-Year</span>
<span class="t b" style="left:153.30px;top:458.50px;font-size:8.6px;color:#e8923f;transform:scaleX(0.9432);">All Residential</span>
<span class="t" style="left:37.80px;top:487.72px;font-size:9.6px;color:#404040;transform:scaleX(0.7121);">AVERAGE</span>
<span class="t" style="left:103.00px;top:484.12px;font-size:14.5px;color:#2a9fd4;transform:scaleX(0.8641);">$539K</span>
<span class="t" style="left:220.60px;top:484.12px;font-size:14.5px;color:#2a9fd4;transform:scaleX(0.8473);">$495K</span>
<span class="t" style="left:265.00px;top:487.72px;font-size:9.6px;color:#404040;transform:scaleX(0.7968);">MEDIAN</span>
<span class="t" style="left:55.30px;top:505.95px;font-size:8.3px;color:#404040;transform:scaleX(0.8415);">MoM</span>
<span class="t" style="left:59.60px;top:523.95px;font-size:8.3px;color:#404040;transform:scaleX(0.7147);">YoY</span>
<span class="t" style="left:111.30px;top:505.95px;font-size:8.3px;color:#404040;transform:scaleX(0.8354);">-1.3%</span>
<span class="t" style="left:112.20px;top:523.95px;font-size:8.3px;color:#404040;transform:scaleX(0.8200);">7.9%</span>
<span class="t" style="left:227.20px;top:505.95px;font-size:8.3px;color:#404040;transform:scaleX(0.8493);">-1.0%</span>
<span class="t" style="left:228.20px;top:523.95px;font-size:8.3px;color:#404040;transform:scaleX(0.8358);">7.6%</span>
<span class="t" style="left:265.00px;top:505.95px;font-size:8.3px;color:#404040;transform:scaleX(0.8578);">MoM</span>
<span class="t" style="left:265.00px;top:523.95px;font-size:8.3px;color:#404040;transform:scaleX(0.6955);">YoY</span>
<span class="t b" style="left:165.30px;top:533.80px;font-size:8.6px;color:#e8923f;transform:scaleX(0.8254);">Detached</span>
<span class="t" style="left:37.80px;top:563.12px;font-size:9.6px;color:#404040;transform:scaleX(0.7121);">AVERAGE</span>
<span class="t" style="left:103.00px;top:559.52px;font-size:14.5px;color:#2a9fd4;transform:scaleX(0.8259);">$422K</span>
<span class="t" style="left:221.00px;top:559.52px;font-size:14.5px;color:#2a9fd4;transform:scaleX(0.8354);">$410K</span>
<span class="t" style="left:265.00px;top:563.12px;font-size:9.6px;color:#404040;transform:scaleX(0.7968);">MEDIAN</span>
<span class="t" style="left:55.30px;top:583.45px;font-size:8.3px;color:#404040;transform:scaleX(0.8415);">MoM</span>
<span class="t" style="left:59.60px;top:603.55px;font-size:8.3px;color:#404040;transform:scaleX(0.7147);">YoY</span>
<span class="t" style="left:112.20px;top:583.45px;font-size:8.3px;color:#404040;transform:scaleX(0.8200);">2.0%</span>
<span class="t" style="left:110.30px;top:603.55px;font-size:8.3px;color:#404040;transform:scaleX(0.8125);">10.3%</span>
<span class="t" style="left:230.80px;top:583.45px;font-size:8.3px;color:#404040;transform:scaleX(0.7829);">0.1%</span>
<span class="t" style="left:230.80px;top:603.55px;font-size:8.3px;color:#404040;transform:scaleX(0.7829);">9.2%</span>
<span class="t" style="left:265.00px;top:583.45px;font-size:8.3px;color:#404040;transform:scaleX(0.8578);">MoM</span>
<span class="t" style="left:265.00px;top:603.55px;font-size:8.3px;color:#404040;transform:scaleX(0.6955);">YoY</span>
<span class="t b" style="left:155.00px;top:608.30px;font-size:8.6px;color:#e8923f;transform:scaleX(0.8431);">Semi-Detached</span>
<span class="t" style="left:37.70px;top:636.32px;font-size:9.6px;color:#404040;transform:scaleX(0.7185);">AVERAGE</span>
<span class="t" style="left:102.70px;top:632.72px;font-size:14.5px;color:#2a9fd4;transform:scaleX(0.8282);">$290K</span>
<span class="t" style="left:220.70px;top:632.72px;font-size:14.5px;color:#2a9fd4;transform:scaleX(0.8378);">$290K</span>
<span class="t" style="left:265.00px;top:636.32px;font-size:9.6px;color:#404040;transform:scaleX(0.7753);">MEDIAN</span>
<span class="t" style="left:55.00px;top:652.35px;font-size:8.3px;color:#404040;transform:scaleX(0.8687);">MoM</span>
<span class="t" style="left:59.50px;top:670.65px;font-size:8.3px;color:#404040;transform:scaleX(0.7338);">YoY</span>
<span class="t" style="left:110.20px;top:652.35px;font-size:8.3px;color:#404040;transform:scaleX(0.8954);">-1.5%</span>
<span class="t" style="left:110.20px;top:670.65px;font-size:8.3px;color:#404040;transform:scaleX(0.8253);">12.7%</span>
<span class="t" style="left:228.60px;top:652.35px;font-size:8.3px;color:#404040;transform:scaleX(0.8954);">-1.7%</span>
<span class="t" style="left:228.60px;top:670.65px;font-size:8.3px;color:#404040;transform:scaleX(0.8253);">15.7%</span>
<span class="t" style="left:265.00px;top:652.35px;font-size:8.3px;color:#404040;transform:scaleX(0.8578);">MoM</span>
<span class="t" style="left:265.00px;top:670.65px;font-size:8.3px;color:#404040;transform:scaleX(0.6955);">YoY</span>
<span class="t b" style="left:152.80px;top:679.40px;font-size:8.6px;color:#e8923f;transform:scaleX(0.8298);">Row/Townhouse</span>
<span class="t" style="left:37.70px;top:706.12px;font-size:9.6px;color:#404040;transform:scaleX(0.7185);">AVERAGE</span>
<span class="t" style="left:102.70px;top:702.52px;font-size:14.5px;color:#2a9fd4;transform:scaleX(0.8282);">$212K</span>
<span class="t" style="left:220.70px;top:702.52px;font-size:14.5px;color:#2a9fd4;transform:scaleX(0.8378);">$195K</span>
<span class="t" style="left:265.00px;top:706.12px;font-size:9.6px;color:#404040;transform:scaleX(0.7753);">MEDIAN</span>
<span class="t" style="left:55.00px;top:723.45px;font-size:8.3px;color:#404040;transform:scaleX(0.8687);">MoM</span>
<span class="t" style="left:59.50px;top:741.85px;font-size:8.3px;color:#404040;transform:scaleX(0.7338);">YoY</span>
<span class="t" style="left:112.50px;top:723.45px;font-size:8.3px;color:#404040;transform:scaleX(0.8147);">2.3%</span>
<span class="t" style="left:112.50px;top:741.85px;font-size:8.3px;color:#404040;transform:scaleX(0.8147);">8.5%</span>
<span class="t" style="left:231.60px;top:723.45px;font-size:8.3px;color:#404040;transform:scaleX(0.7777);">1.6%</span>
<span class="t" style="left:228.60px;top:741.85px;font-size:8.3px;color:#404040;transform:scaleX(0.8253);">11.4%</span>
<span class="t" style="left:265.00px;top:723.45px;font-size:8.3px;color:#404040;transform:scaleX(0.8578);">MoM</span>
<span class="t" style="left:265.00px;top:741.85px;font-size:8.3px;color:#404040;transform:scaleX(0.6955);">YoY</span>
<span class="t b" style="left:133.30px;top:753.90px;font-size:8.6px;color:#e8923f;transform:scaleX(0.8590);">Apartment Condominium</span>
<span class="t i" style="left:26.80px;top:771.60px;font-size:8.2px;color:#222;transform:scaleX(0.9361);">* Greater Edmonton Area includes Beaumont, Bon Accord, Bruderheim, Calmar, Devon, Edmonton, Fort Saskatchewan, Gibbons, Leduc, Legal, Morinville, New Sarepta, Redwater, Rural Leduc County, Rural Parkland County, Rural Strathcona County,</span>
<span class="t i" style="left:26.50px;top:784.30px;font-size:8.2px;color:#222;transform:scaleX(0.9373);">Rural Sturgeon County, Sherwood Park, Spruce Grove, St. Albert, Stony Plain, Thorsby, Wabamun, Warburg.</span>
<span class="t b" style="left:329.80px;top:387.22px;font-size:14.5px;color:#ffffff;transform:scaleX(0.9757);">NEW  LISTINGS</span>
<span class="t" style="left:464.00px;top:383.80px;font-size:8.6px;color:#404040;transform:scaleX(0.9256);">Current Month</span>
<span class="t" style="left:530.00px;top:383.80px;font-size:8.6px;color:#404040;transform:scaleX(0.9551);">Month-over-Month</span>
<span class="t" style="left:464.00px;top:400.25px;font-size:21px;color:#4db37a;-webkit-text-stroke:0.42px #4db37a;transform:scaleX(0.9046);">3,712</span>
<span class="t" style="left:552.30px;top:406.63px;font-size:11px;color:#404040;transform:scaleX(1.0251);">-12.2%</span>
<span class="t" style="left:481.90px;top:438.50px;font-size:8.6px;color:#404040;transform:scaleX(0.8212);">YTD</span>
<span class="t" style="left:539.50px;top:438.70px;font-size:8.6px;color:#404040;transform:scaleX(0.8349);">Year-over-Year</span>
<span class="t" style="left:470.70px;top:454.05px;font-size:21px;color:#4db37a;-webkit-text-stroke:0.42px #4db37a;transform:scaleX(0.9454);">20K</span>
<span class="t" style="left:558.20px;top:461.53px;font-size:11px;color:#404040;transform:scaleX(0.9460);">2.3%</span>
<span class="t b" style="left:658.00px;top:462.32px;font-size:14.5px;color:#ffffff;transform:scaleX(0.8634);">SALES</span>
<span class="t" style="left:733.40px;top:385.50px;font-size:8.6px;color:#404040;transform:scaleX(0.9402);">Current Month</span>
<span class="t" style="left:800.20px;top:385.50px;font-size:8.6px;color:#404040;transform:scaleX(0.9580);">Month-over-Month</span>
<span class="t" style="left:734.30px;top:400.25px;font-size:21px;color:#4db37a;-webkit-text-stroke:0.42px #4db37a;transform:scaleX(0.9217);">2,847</span>
<span class="t" style="left:821.30px;top:406.63px;font-size:11px;color:#404040;transform:scaleX(1.0194);">-11.4%</span>
<span class="t" style="left:752.00px;top:440.20px;font-size:8.6px;color:#404040;transform:scaleX(0.8328);">YTD</span>
<span class="t" style="left:809.00px;top:440.20px;font-size:8.6px;color:#404040;transform:scaleX(0.8434);">Year-over-Year</span>
<span class="t" style="left:741.60px;top:454.05px;font-size:21px;color:#4db37a;-webkit-text-stroke:0.42px #4db37a;transform:scaleX(0.9481);">15K</span>
<span class="t" style="left:823.20px;top:461.53px;font-size:11px;color:#404040;transform:scaleX(0.9528);">10.0%</span>
<span class="t" style="left:341.30px;top:541.38px;font-size:23px;color:#e08a43;-webkit-text-stroke:0.46px #e08a43;transform:scaleX(0.9443);">5,950</span>
<span class="t b" style="left:414.80px;top:577.52px;font-size:10.4px;color:#fff6ea;transform:scaleX(0.9643);">INVENTORY</span>
<span class="t b" style="left:539.40px;top:536.00px;font-size:8.4px;color:#d9935c;letter-spacing:0.8px;transform:scaleX(0.7995);">SOLD</span>
<span class="t b" style="left:621.00px;top:504.40px;font-size:8.6px;color:#4a4a4a;transform:scaleX(0.9522);">Detached</span>
<span class="t b" style="left:598.50px;top:525.30px;font-size:8.6px;color:#4a4a4a;transform:scaleX(0.9560);">Semi-Detached</span>
<span class="t b" style="left:593.30px;top:549.80px;font-size:8.6px;color:#4a4a4a;transform:scaleX(0.9456);">Row/Townhouse</span>
<span class="t b" style="left:557.00px;top:575.50px;font-size:8.6px;color:#4a4a4a;transform:scaleX(0.9784);">Apartment Condominium</span>
<span class="t" style="left:675.50px;top:502.70px;font-size:12.5px;color:#e08a43;transform:scaleX(0.9424);">$2,370,000</span>
<span class="t" style="left:675.50px;top:523.50px;font-size:12.5px;color:#e08a43;transform:scaleX(0.9424);">$1,440,000</span>
<span class="t" style="left:680.30px;top:548.00px;font-size:12.5px;color:#e08a43;transform:scaleX(0.9637);">$853,995</span>
<span class="t" style="left:680.30px;top:573.70px;font-size:12.5px;color:#e08a43;transform:scaleX(0.9637);">$975,000</span>
<span class="t b" style="left:762.80px;top:576.72px;font-size:10.4px;color:#fff6ea;transform:scaleX(0.9320);">HIGH ROLLERS</span>
<span class="t b" style="left:477.50px;top:629.19px;font-size:7.8px;color:#6a6a6a;transform:scaleX(0.9987);">THIS YEAR</span>
<span class="t b" style="left:529.70px;top:629.19px;font-size:7.8px;color:#6a6a6a;transform:scaleX(0.9673);">LAST YEAR</span>
<span class="t b" style="left:628.00px;top:625.92px;font-size:9.6px;color:#ffffff;transform:scaleX(0.9206);">AVERAGE DAYS ON MARKET FOR MONTHLY SALES</span>
<span class="t b" style="left:384.70px;top:657.50px;font-size:8.6px;color:#555555;transform:scaleX(0.9470);">Detached</span>
<span class="t b" style="left:361.70px;top:677.90px;font-size:8.6px;color:#555555;transform:scaleX(0.9608);">Semi-Detached</span>
<span class="t b" style="left:356.40px;top:698.70px;font-size:8.6px;color:#555555;transform:scaleX(0.9514);">Row/Townhouse</span>
<span class="t b" style="left:320.60px;top:719.40px;font-size:8.6px;color:#555555;transform:scaleX(0.9775);">Apartment Condominium</span>
<span class="t b" style="left:365.50px;top:739.80px;font-size:8.6px;color:#555555;transform:scaleX(0.9432);">All Residential</span>
<span class="t b" style="left:75.20px;top:916.53px;font-size:11px;color:#ffffff;transform:scaleX(1.0341);">REALTORS</span>
<span class="t b" style="left:138.50px;top:916.37px;font-size:6px;color:#ffffff;transform:scaleX(1.1319);">®</span>
<span class="t" style="left:75.20px;top:928.42px;font-size:10px;color:#fde6dc;transform:scaleX(0.9967);">Association of</span>
<span class="t" style="left:75.20px;top:938.22px;font-size:10px;color:#fde6dc;transform:scaleX(0.9836);">Edmonton</span>
<span class="t" style="left:221.80px;top:922.72px;font-size:22.5px;color:#fdebd6;-webkit-text-stroke:0.61px #e07f2a;transform:scaleX(0.8466);">JUNE</span>
<span class="t" style="left:278.00px;top:922.72px;font-size:22.5px;color:#fdebd6;-webkit-text-stroke:0.61px #e07f2a;transform:scaleX(0.9058);">2024</span>
<span class="t" style="left:330.50px;top:922.72px;font-size:22.5px;color:#fdebd6;-webkit-text-stroke:0.61px #e07f2a;transform:scaleX(0.8114);">RESIDENTIAL</span>
<span class="t" style="left:458.20px;top:922.72px;font-size:22.5px;color:#fdebd6;-webkit-text-stroke:0.61px #e07f2a;transform:scaleX(0.7799);">STATISTICS</span>
<span class="t" style="left:567.70px;top:922.72px;font-size:22.5px;color:#fdebd6;-webkit-text-stroke:0.61px #e07f2a;transform:scaleX(1.3347);">-</span>
<span class="t" style="left:581.80px;top:922.72px;font-size:22.5px;color:#fdebd6;-webkit-text-stroke:0.61px #e07f2a;transform:scaleX(0.7712);">GREATER</span>
<span class="t" style="left:673.10px;top:922.72px;font-size:22.5px;color:#fdebd6;-webkit-text-stroke:0.61px #e07f2a;transform:scaleX(0.9091);">EDMONTON</span>
<span class="t" style="left:799.90px;top:922.72px;font-size:22.5px;color:#fdebd6;-webkit-text-stroke:0.61px #e07f2a;transform:scaleX(0.8233);">AREA</span>
<span class="t b" style="left:156.00px;top:974.38px;font-size:14.6px;color:#8c1d40;transform:scaleX(0.9746);">MLS</span>
<span class="t b" style="left:186.00px;top:974.05px;font-size:8.5px;color:#8c1d40;transform:scaleX(1.1183);">®</span>
<span class="t b" style="left:197.60px;top:974.38px;font-size:14.6px;color:#8c1d40;transform:scaleX(1.0106);">HOME</span>
<span class="t b" style="left:245.80px;top:974.38px;font-size:14.6px;color:#8c1d40;transform:scaleX(0.8841);">PRICE</span>
<span class="t b" style="left:289.60px;top:974.38px;font-size:14.6px;color:#8c1d40;transform:scaleX(0.9784);">INDEX</span>
<span class="t" style="left:65.40px;top:1010.50px;font-size:25px;color:#5c5c5c;-webkit-text-stroke:0.50px #5c5c5c;transform:scaleX(1.0467);">$408K</span>
<span class="t" style="left:217.60px;top:1010.50px;font-size:25px;color:#5c5c5c;-webkit-text-stroke:0.50px #5c5c5c;transform:scaleX(0.9556);">2.1%</span>
<span class="t" style="left:358.40px;top:1010.50px;font-size:25px;color:#5c5c5c;-webkit-text-stroke:0.50px #5c5c5c;transform:scaleX(0.9714);">7.0%</span>
<span class="t" style="left:65.40px;top:1041.52px;font-size:10.2px;color:#2a2a2a;transform:scaleX(0.9755);">Benchmark Price</span>
<span class="t" style="left:200.30px;top:1041.52px;font-size:10.2px;color:#2a2a2a;transform:scaleX(1.0691);">Month-over-Month</span>
<span class="t" style="left:352.40px;top:1041.52px;font-size:10.2px;color:#2a2a2a;transform:scaleX(0.9370);">Year-over-Year</span>
<span class="t" style="left:71.90px;top:1091.24px;font-size:20px;color:#2880b9;-webkit-text-stroke:0.40px #2880b9;transform:scaleX(1.0504);">$439K</span>
<span class="t" style="left:217.60px;top:1091.24px;font-size:20px;color:#2880b9;-webkit-text-stroke:0.40px #2880b9;transform:scaleX(1.0230);">-0.6%</span>
<span class="t" style="left:364.30px;top:1091.24px;font-size:20px;color:#2880b9;-webkit-text-stroke:0.40px #2880b9;transform:scaleX(0.9331);">6.6%</span>
<span class="t" style="left:58.50px;top:1117.52px;font-size:10.2px;color:#2a2a2a;transform:scaleX(0.9434);">Average Sales Price</span>
<span class="t" style="left:199.30px;top:1117.52px;font-size:10.2px;color:#2a2a2a;transform:scaleX(1.0691);">Month-over-Month</span>
<span class="t" style="left:352.40px;top:1117.52px;font-size:10.2px;color:#2a2a2a;transform:scaleX(0.9370);">Year-over-Year</span>
<span class="t" style="left:73.30px;top:1167.44px;font-size:20px;color:#2880b9;-webkit-text-stroke:0.40px #2880b9;transform:scaleX(1.0435);">$418K</span>
<span class="t" style="left:218.60px;top:1167.44px;font-size:20px;color:#2880b9;-webkit-text-stroke:0.40px #2880b9;transform:scaleX(1.0230);">-0.7%</span>
<span class="t" style="left:364.30px;top:1167.44px;font-size:20px;color:#2880b9;-webkit-text-stroke:0.40px #2880b9;transform:scaleX(0.9550);">7.2%</span>
<span class="t" style="left:60.50px;top:1193.62px;font-size:10.2px;color:#2a2a2a;transform:scaleX(0.9693);">Median Sales Price</span>
<span class="t" style="left:200.30px;top:1193.62px;font-size:10.2px;color:#2a2a2a;transform:scaleX(1.0691);">Month-over-Month</span>
<span class="t" style="left:352.40px;top:1193.62px;font-size:10.2px;color:#2a2a2a;transform:scaleX(0.9370);">Year-over-Year</span>
<span class="t" style="left:477.20px;top:990.41px;font-size:13.5px;color:#454545;transform:scaleX(0.9209);">BENCHMARK PRICE TREND</span>
<span class="t" style="left:832.50px;top:1010.10px;font-size:8.6px;color:#6f6f6f;transform:scaleX(1.0590);">$410K</span>
<span class="t" style="left:832.50px;top:1049.60px;font-size:8.6px;color:#6f6f6f;transform:scaleX(1.0590);">$400K</span>
<span class="t" style="left:832.50px;top:1089.00px;font-size:8.6px;color:#6f6f6f;transform:scaleX(1.0590);">$390K</span>
<span class="t" style="left:832.50px;top:1128.20px;font-size:8.6px;color:#6f6f6f;transform:scaleX(1.0590);">$380K</span>
<span class="t" style="left:832.50px;top:1167.60px;font-size:8.6px;color:#6f6f6f;transform:scaleX(1.0590);">$370K</span>
<span class="t" style="left:493.28px;top:1179.00px;font-size:8.6px;color:#6f6f6f;transform:scaleX(0.9990);">Jun</span>
<span class="t" style="left:490.40px;top:1189.70px;font-size:8.6px;color:#6f6f6f;transform:scaleX(1.0259);">2023</span>
<span class="t" style="left:521.09px;top:1179.00px;font-size:8.6px;color:#6f6f6f;transform:scaleX(0.9990);">Jul</span>
<span class="t" style="left:516.78px;top:1189.70px;font-size:8.6px;color:#6f6f6f;transform:scaleX(1.0259);">2023</span>
<span class="t" style="left:545.32px;top:1179.00px;font-size:8.6px;color:#6f6f6f;transform:scaleX(0.9990);">Aug</span>
<span class="t" style="left:543.16px;top:1189.70px;font-size:8.6px;color:#6f6f6f;transform:scaleX(1.0259);">2023</span>
<span class="t" style="left:571.70px;top:1179.00px;font-size:8.6px;color:#6f6f6f;transform:scaleX(0.9990);">Sep</span>
<span class="t" style="left:569.54px;top:1189.70px;font-size:8.6px;color:#6f6f6f;transform:scaleX(1.0259);">2023</span>
<span class="t" style="left:599.04px;top:1179.00px;font-size:8.6px;color:#6f6f6f;transform:scaleX(0.9990);">Oct</span>
<span class="t" style="left:595.92px;top:1189.70px;font-size:8.6px;color:#6f6f6f;transform:scaleX(1.0259);">2023</span>
<span class="t" style="left:624.46px;top:1179.00px;font-size:8.6px;color:#6f6f6f;transform:scaleX(0.9990);">Nov</span>
<span class="t" style="left:622.30px;top:1189.70px;font-size:8.6px;color:#6f6f6f;transform:scaleX(1.0259);">2023</span>
<span class="t" style="left:650.84px;top:1179.00px;font-size:8.6px;color:#6f6f6f;transform:scaleX(0.9990);">Dec</span>
<span class="t" style="left:648.68px;top:1189.70px;font-size:8.6px;color:#6f6f6f;transform:scaleX(1.0259);">2023</span>
<span class="t" style="left:677.94px;top:1179.00px;font-size:8.6px;color:#6f6f6f;transform:scaleX(0.9990);">Jan</span>
<span class="t" style="left:675.06px;top:1189.70px;font-size:8.6px;color:#6f6f6f;transform:scaleX(1.0259);">2024</span>
<span class="t" style="left:703.84px;top:1179.00px;font-size:8.6px;color:#6f6f6f;transform:scaleX(0.9990);">Feb</span>
<span class="t" style="left:701.44px;top:1189.70px;font-size:8.6px;color:#6f6f6f;transform:scaleX(1.0259);">2024</span>
<span class="t" style="left:730.22px;top:1179.00px;font-size:8.6px;color:#6f6f6f;transform:scaleX(0.9990);">Mar</span>
<span class="t" style="left:727.82px;top:1189.70px;font-size:8.6px;color:#6f6f6f;transform:scaleX(1.0259);">2024</span>
<span class="t" style="left:757.32px;top:1179.00px;font-size:8.6px;color:#6f6f6f;transform:scaleX(0.9990);">Apr</span>
<span class="t" style="left:754.20px;top:1189.70px;font-size:8.6px;color:#6f6f6f;transform:scaleX(1.0259);">2024</span>
<span class="t" style="left:782.26px;top:1179.00px;font-size:8.6px;color:#6f6f6f;transform:scaleX(0.9990);">May</span>
<span class="t" style="left:780.58px;top:1189.70px;font-size:8.6px;color:#6f6f6f;transform:scaleX(1.0259);">2024</span>
<span class="t" style="left:809.84px;top:1179.00px;font-size:8.6px;color:#6f6f6f;transform:scaleX(0.9990);">Jun</span>
<span class="t" style="left:806.96px;top:1189.70px;font-size:8.6px;color:#6f6f6f;transform:scaleX(1.0259);">2024</span>
<span class="t b" style="left:38.20px;top:1342.84px;font-size:12px;color:#111;transform:scaleX(0.9657);">SINGLE FAMILY</span>
<span class="t b" style="left:324.90px;top:1342.84px;font-size:12px;color:#111;transform:scaleX(0.9873);">APARTMENT</span>
<span class="t b" style="left:606.50px;top:1342.84px;font-size:12px;color:#111;transform:scaleX(1.0030);">TOWNHOUSE</span>
<span class="t" style="left:136.00px;top:1258.99px;font-size:24px;color:#5c5c5c;-webkit-text-stroke:0.48px #5c5c5c;transform:scaleX(0.9490);">$476K</span>
<span class="t" style="left:214.00px;top:1267.62px;font-size:10.2px;color:#2a2a2a;transform:scaleX(0.9897);">Benchmark Price</span>
<span class="t" style="left:173.00px;top:1292.17px;font-size:14px;color:#5c5c5c;-webkit-text-stroke:0.28px #5c5c5c;transform:scaleX(0.9031);">2.2%</span>
<span class="t" style="left:214.00px;top:1295.52px;font-size:9.6px;color:#2a2a2a;transform:scaleX(0.9922);">Month-over-Month</span>
<span class="t" style="left:173.00px;top:1320.37px;font-size:14px;color:#5c5c5c;-webkit-text-stroke:0.28px #5c5c5c;transform:scaleX(0.9031);">8.7%</span>
<span class="t" style="left:214.00px;top:1324.02px;font-size:9.6px;color:#2a2a2a;transform:scaleX(0.8699);">Year-over-Year</span>
<span class="t" style="left:417.60px;top:1255.79px;font-size:24px;color:#5c5c5c;-webkit-text-stroke:0.48px #5c5c5c;transform:scaleX(0.9807);">$198K</span>
<span class="t" style="left:496.00px;top:1267.62px;font-size:10.2px;color:#2a2a2a;transform:scaleX(0.9871);">Benchmark Price</span>
<span class="t" style="left:451.00px;top:1291.17px;font-size:14px;color:#5c5c5c;-webkit-text-stroke:0.28px #5c5c5c;transform:scaleX(0.8968);">2.4%</span>
<span class="t" style="left:496.00px;top:1294.82px;font-size:9.6px;color:#2a2a2a;transform:scaleX(0.9896);">Month-over-Month</span>
<span class="t" style="left:447.00px;top:1320.17px;font-size:14px;color:#5c5c5c;-webkit-text-stroke:0.28px #5c5c5c;transform:scaleX(0.9228);">11.2%</span>
<span class="t" style="left:496.00px;top:1323.82px;font-size:9.6px;color:#2a2a2a;transform:scaleX(0.8653);">Year-over-Year</span>
<span class="t" style="left:707.90px;top:1250.99px;font-size:24px;color:#5c5c5c;-webkit-text-stroke:0.48px #5c5c5c;transform:scaleX(0.9461);">$268K</span>
<span class="t" style="left:788.40px;top:1263.02px;font-size:10.2px;color:#2a2a2a;transform:scaleX(0.9755);">Benchmark Price</span>
<span class="t" style="left:743.00px;top:1287.17px;font-size:14px;color:#5c5c5c;-webkit-text-stroke:0.28px #5c5c5c;transform:scaleX(0.8780);">2.8%</span>
<span class="t" style="left:788.40px;top:1290.32px;font-size:9.6px;color:#2a2a2a;transform:scaleX(0.9781);">Month-over-Month</span>
<span class="t" style="left:740.00px;top:1315.87px;font-size:14px;color:#5c5c5c;-webkit-text-stroke:0.28px #5c5c5c;transform:scaleX(0.8824);">13.1%</span>
<span class="t" style="left:788.40px;top:1319.52px;font-size:9.6px;color:#2a2a2a;transform:scaleX(0.8515);">Year-over-Year</span>
<span class="t i" style="left:32.30px;top:1376.92px;font-size:10.4px;color:#333;transform:scaleX(0.9710);">For more information about the Home Price Index (HPI) and benchmark price visit </span>
<span class="t i" style="left:402.00px;top:1376.92px;font-size:10.4px;color:#2d4f9e;transform:scaleX(0.9928);">www.crea.ca</span>
<span class="t b" style="left:781.20px;top:1371.58px;font-size:6.4px;color:#222;transform:scaleX(1.0232);">MLS</span>
<span class="t b" style="left:795.30px;top:1371.44px;font-size:3.6px;color:#222;transform:scaleX(1.1306);">®</span>
<span class="t b" style="left:781.20px;top:1379.02px;font-size:9.6px;color:#1c1c1c;transform:scaleX(1.0020);">Home Price Index</span>
<span class="t b" style="left:545.46px;top:654.08px;font-size:6.6px;color:#ffffff;transform:scaleX(0.9990);">29</span>
<span class="t b" style="left:592.96px;top:662.78px;font-size:6.6px;color:#ffffff;transform:scaleX(0.9990);">40</span>
<span class="t b" style="left:541.46px;top:674.78px;font-size:6.6px;color:#ffffff;transform:scaleX(0.9990);">28</span>
<span class="t b" style="left:565.46px;top:683.48px;font-size:6.6px;color:#ffffff;transform:scaleX(0.9990);">34</span>
<span class="t b" style="left:527.36px;top:695.58px;font-size:6.6px;color:#ffffff;transform:scaleX(0.9990);">25</span>
<span class="t b" style="left:595.76px;top:704.28px;font-size:6.6px;color:#ffffff;transform:scaleX(0.9990);">41</span>
<span class="t b" style="left:601.86px;top:716.28px;font-size:6.6px;color:#ffffff;transform:scaleX(0.9990);">42</span>
<span class="t b" style="left:659.26px;top:724.98px;font-size:6.6px;color:#ffffff;transform:scaleX(0.9990);">55</span>
<span class="t b" style="left:551.36px;top:736.78px;font-size:6.6px;color:#ffffff;transform:scaleX(0.9990);">30</span>
<span class="t b" style="left:600.36px;top:745.48px;font-size:6.6px;color:#ffffff;transform:scaleX(0.9990);">41</span>
</body></html>
